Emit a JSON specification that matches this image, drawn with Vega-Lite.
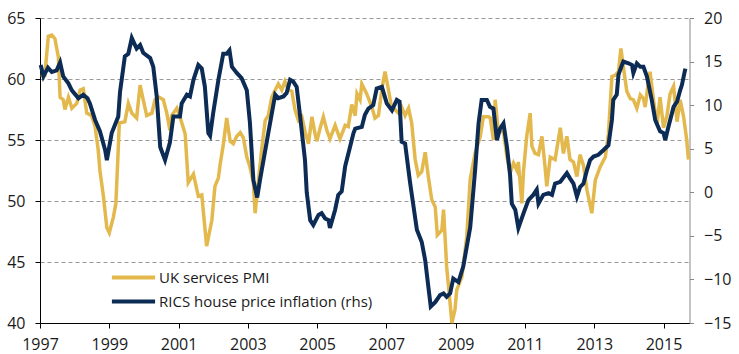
{
  "$schema": "https://vega.github.io/schema/vega-lite/v6.json",
  "width": 649.5,
  "height": 305,
  "autosize": {"type": "none"},
  "padding": {"left": 40, "top": 18, "right": 49.5, "bottom": 31},
  "background": "white",
  "config": {
    "font": "Open Sans",
    "view": {"stroke": null},
    "axis": {"labelFont": "Open Sans", "labelFontSize": 16, "labelColor": "#1a1a1a", "title": null}
  },
  "datasets": {
    "pmi": [
      {"t":1997.02,"v":60.3},{"t":1997.14,"v":60.3},{"t":1997.24,"v":63.5},{"t":1997.34,"v":63.6},{"t":1997.43,"v":63.3},{"t":1997.53,"v":61.8},{"t":1997.58,"v":58.5},{"t":1997.67,"v":58.3},{"t":1997.72,"v":57.5},{"t":1997.82,"v":58.5},{"t":1997.92,"v":57.6},
      {"t":1998.06,"v":58.0},{"t":1998.16,"v":59.1},{"t":1998.25,"v":59.2},{"t":1998.35,"v":57.2},{"t":1998.49,"v":57.0},{"t":1998.59,"v":56.1},{"t":1998.68,"v":54.2},{"t":1998.73,"v":52.5},{"t":1998.83,"v":50.4},{"t":1998.93,"v":47.8},
      {"t":1999.0,"v":47.4},{"t":1999.12,"v":48.7},{"t":1999.19,"v":49.8},{"t":1999.24,"v":53.0},{"t":1999.29,"v":56.4},{"t":1999.45,"v":56.5},{"t":1999.55,"v":58.0},{"t":1999.65,"v":57.2},{"t":1999.79,"v":56.8},{"t":1999.89,"v":59.5},{"t":1999.98,"v":58.3},
      {"t":2000.08,"v":57.0},{"t":2000.23,"v":57.2},{"t":2000.32,"v":58.3},{"t":2000.44,"v":58.5},{"t":2000.56,"v":58.3},{"t":2000.66,"v":57.2},{"t":2000.75,"v":55.8},{"t":2000.8,"v":57.0},{"t":2000.95,"v":57.6},
      {"t":2001.04,"v":56.9},{"t":2001.19,"v":55.5},{"t":2001.28,"v":51.5},{"t":2001.43,"v":52.2},{"t":2001.57,"v":50.4},{"t":2001.67,"v":50.5},{"t":2001.81,"v":46.3},{"t":2001.96,"v":48.4},
      {"t":2002.05,"v":51.2},{"t":2002.15,"v":51.9},{"t":2002.2,"v":53.0},{"t":2002.29,"v":54.6},{"t":2002.39,"v":56.8},{"t":2002.49,"v":54.9},{"t":2002.58,"v":54.7},{"t":2002.68,"v":55.3},{"t":2002.78,"v":55.6},{"t":2002.87,"v":55.2},{"t":2002.97,"v":53.6},
      {"t":2003.06,"v":52.8},{"t":2003.16,"v":51.5},{"t":2003.21,"v":49.0},{"t":2003.3,"v":51.5},{"t":2003.4,"v":54.2},{"t":2003.5,"v":56.6},{"t":2003.59,"v":57.0},{"t":2003.69,"v":58.5},{"t":2003.79,"v":59.1},{"t":2003.88,"v":59.6},{"t":2003.98,"v":59.1},
      {"t":2004.07,"v":59.8},{"t":2004.17,"v":59.1},{"t":2004.27,"v":59.0},{"t":2004.36,"v":57.5},{"t":2004.46,"v":56.6},{"t":2004.56,"v":56.9},{"t":2004.65,"v":55.7},{"t":2004.75,"v":54.7},{"t":2004.85,"v":56.9},{"t":2004.94,"v":55.5},{"t":2004.99,"v":54.9},
      {"t":2005.09,"v":56.0},{"t":2005.18,"v":56.9},{"t":2005.28,"v":55.8},{"t":2005.37,"v":55.1},{"t":2005.52,"v":56.2},{"t":2005.66,"v":55.1},{"t":2005.81,"v":56.2},{"t":2005.9,"v":56.1},
      {"t":2006.0,"v":57.9},{"t":2006.1,"v":57.0},{"t":2006.15,"v":58.8},{"t":2006.24,"v":58.3},{"t":2006.29,"v":59.6},{"t":2006.43,"v":58.8},{"t":2006.58,"v":57.7},{"t":2006.67,"v":56.8},{"t":2006.77,"v":57.0},{"t":2006.87,"v":59.2},{"t":2006.96,"v":60.6},
      {"t":2007.06,"v":59.1},{"t":2007.16,"v":57.5},{"t":2007.25,"v":57.5},{"t":2007.35,"v":57.2},{"t":2007.44,"v":57.7},{"t":2007.54,"v":57.0},{"t":2007.64,"v":57.6},{"t":2007.73,"v":56.4},{"t":2007.83,"v":53.4},{"t":2007.92,"v":52.1},
      {"t":2008.02,"v":52.4},{"t":2008.12,"v":54.0},{"t":2008.21,"v":52.0},{"t":2008.31,"v":50.1},{"t":2008.41,"v":49.5},{"t":2008.47,"v":47.2},{"t":2008.6,"v":47.6},{"t":2008.65,"v":49.3},{"t":2008.74,"v":44.6},{"t":2008.84,"v":41.6},{"t":2008.89,"v":40.0},{"t":2008.98,"v":41.1},
      {"t":2009.03,"v":42.7},{"t":2009.18,"v":43.8},{"t":2009.32,"v":47.1},{"t":2009.42,"v":51.8},{"t":2009.56,"v":53.9},{"t":2009.71,"v":55.3},{"t":2009.8,"v":56.9},{"t":2009.95,"v":56.9},
      {"t":2010.0,"v":56.8},{"t":2010.09,"v":55.0},{"t":2010.14,"v":58.3},{"t":2010.23,"v":55.7},{"t":2010.38,"v":55.7},{"t":2010.48,"v":53.6},{"t":2010.57,"v":52.3},{"t":2010.67,"v":53.1},{"t":2010.77,"v":52.5},{"t":2010.81,"v":53.2},{"t":2010.91,"v":49.8},{"t":2010.96,"v":52.5},
      {"t":2011.05,"v":55.3},{"t":2011.15,"v":57.2},{"t":2011.2,"v":54.5},{"t":2011.29,"v":53.9},{"t":2011.39,"v":53.8},{"t":2011.49,"v":55.3},{"t":2011.58,"v":52.8},{"t":2011.63,"v":51.2},{"t":2011.73,"v":53.6},{"t":2011.87,"v":53.4},
      {"t":2012.02,"v":56.0},{"t":2012.11,"v":53.9},{"t":2012.21,"v":55.3},{"t":2012.3,"v":53.4},{"t":2012.4,"v":53.2},{"t":2012.5,"v":52.0},{"t":2012.59,"v":53.8},{"t":2012.69,"v":52.9},{"t":2012.79,"v":50.9},{"t":2012.93,"v":49.0},
      {"t":2013.03,"v":51.7},{"t":2013.17,"v":52.8},{"t":2013.32,"v":53.6},{"t":2013.41,"v":55.5},{"t":2013.51,"v":60.2},{"t":2013.6,"v":60.3},{"t":2013.7,"v":60.6},{"t":2013.77,"v":62.5},{"t":2013.84,"v":61.0},{"t":2013.94,"v":59.0},
      {"t":2014.04,"v":58.4},{"t":2014.13,"v":58.3},{"t":2014.23,"v":57.6},{"t":2014.33,"v":58.7},{"t":2014.42,"v":58.4},{"t":2014.47,"v":57.7},{"t":2014.57,"v":59.9},{"t":2014.61,"v":60.6},{"t":2014.71,"v":58.3},{"t":2014.81,"v":56.2},{"t":2014.9,"v":58.5},
      {"t":2015.0,"v":56.0},{"t":2015.1,"v":57.0},{"t":2015.19,"v":58.8},{"t":2015.29,"v":59.4},{"t":2015.39,"v":56.5},{"t":2015.48,"v":58.3},{"t":2015.58,"v":56.9},{"t":2015.67,"v":55.0},{"t":2015.72,"v":53.4}
    ],
    "rics": [
      {"t":1997.02,"v":14.6},{"t":1997.1,"v":13.3},{"t":1997.23,"v":14.3},{"t":1997.34,"v":13.8},{"t":1997.48,"v":14.0},{"t":1997.58,"v":14.9},{"t":1997.67,"v":13.3},{"t":1997.82,"v":12.5},{"t":1997.92,"v":11.7},
      {"t":1998.11,"v":10.8},{"t":1998.25,"v":11.2},{"t":1998.37,"v":10.8},{"t":1998.44,"v":10.2},{"t":1998.59,"v":8.3},{"t":1998.73,"v":7.0},{"t":1998.88,"v":4.85},{"t":1998.93,"v":3.7},
      {"t":1999.07,"v":6.8},{"t":1999.26,"v":8.7},{"t":1999.31,"v":11.5},{"t":1999.45,"v":15.6},{"t":1999.55,"v":15.9},{"t":1999.65,"v":17.7},{"t":1999.79,"v":16.5},{"t":1999.89,"v":16.9},{"t":1999.98,"v":16.0},
      {"t":2000.18,"v":15.4},{"t":2000.27,"v":14.4},{"t":2000.37,"v":11.0},{"t":2000.47,"v":5.2},{"t":2000.61,"v":3.7},{"t":2000.75,"v":5.7},{"t":2000.85,"v":8.7},
      {"t":2001.04,"v":8.7},{"t":2001.09,"v":10.2},{"t":2001.24,"v":11.2},{"t":2001.33,"v":11.0},{"t":2001.43,"v":12.9},{"t":2001.57,"v":14.6},{"t":2001.67,"v":14.2},{"t":2001.76,"v":12.1},{"t":2001.86,"v":6.8},{"t":2001.91,"v":6.5},
      {"t":2002.0,"v":9.1},{"t":2002.15,"v":12.9},{"t":2002.29,"v":15.9},{"t":2002.39,"v":15.9},{"t":2002.47,"v":16.3},{"t":2002.54,"v":14.4},{"t":2002.68,"v":13.7},{"t":2002.82,"v":13.1},{"t":2002.97,"v":11.7},
      {"t":2003.06,"v":8.0},{"t":2003.16,"v":1.4},{"t":2003.27,"v":-0.6},{"t":2003.35,"v":1.4},{"t":2003.59,"v":6.8},{"t":2003.79,"v":11.2},{"t":2003.88,"v":10.8},
      {"t":2004.03,"v":11.0},{"t":2004.12,"v":11.4},{"t":2004.22,"v":12.9},{"t":2004.31,"v":12.7},{"t":2004.41,"v":12.1},{"t":2004.51,"v":8.7},{"t":2004.65,"v":3.7},{"t":2004.7,"v":0.0},{"t":2004.8,"v":-3.2},{"t":2004.89,"v":-3.75},
      {"t":2005.04,"v":-2.6},{"t":2005.13,"v":-2.4},{"t":2005.23,"v":-3.0},{"t":2005.33,"v":-3.2},{"t":2005.37,"v":-4.1},{"t":2005.52,"v":-2.0},{"t":2005.61,"v":-0.3},{"t":2005.71,"v":0.1},{"t":2005.81,"v":3.0},{"t":2005.95,"v":5.2},
      {"t":2006.05,"v":6.8},{"t":2006.1,"v":7.3},{"t":2006.29,"v":7.5},{"t":2006.38,"v":8.9},{"t":2006.48,"v":9.6},{"t":2006.62,"v":10.0},{"t":2006.72,"v":11.9},{"t":2006.87,"v":12.1},
      {"t":2007.01,"v":10.2},{"t":2007.16,"v":9.4},{"t":2007.3,"v":10.6},{"t":2007.38,"v":10.4},{"t":2007.44,"v":5.8},{"t":2007.54,"v":5.6},{"t":2007.68,"v":1.2},{"t":2007.88,"v":-4.3},
      {"t":2008.02,"v":-5.7},{"t":2008.12,"v":-7.8},{"t":2008.21,"v":-10.8},{"t":2008.28,"v":-13.1},{"t":2008.41,"v":-12.6},{"t":2008.55,"v":-11.8},{"t":2008.65,"v":-11.6},{"t":2008.74,"v":-12.0},{"t":2008.84,"v":-11.6},{"t":2008.93,"v":-9.9},
      {"t":2009.08,"v":-10.3},{"t":2009.22,"v":-8.5},{"t":2009.42,"v":-4.0},{"t":2009.56,"v":2.5},{"t":2009.66,"v":7.9},{"t":2009.75,"v":10.6},{"t":2009.9,"v":10.6},{"t":2009.99,"v":9.8},
      {"t":2010.09,"v":9.6},{"t":2010.19,"v":6.0},{"t":2010.28,"v":7.3},{"t":2010.38,"v":7.9},{"t":2010.48,"v":5.2},{"t":2010.57,"v":2.0},{"t":2010.62,"v":-1.3},{"t":2010.72,"v":-2.0},{"t":2010.81,"v":-4.1},{"t":2010.96,"v":-2.4},
      {"t":2011.1,"v":-0.9},{"t":2011.24,"v":-0.3},{"t":2011.34,"v":0.3},{"t":2011.39,"v":-1.3},{"t":2011.53,"v":-0.3},{"t":2011.68,"v":-0.1},{"t":2011.78,"v":-0.3},{"t":2011.87,"v":1.0},
      {"t":2012.02,"v":1.2},{"t":2012.21,"v":2.2},{"t":2012.3,"v":1.6},{"t":2012.4,"v":1.0},{"t":2012.5,"v":-0.5},{"t":2012.59,"v":0.6},{"t":2012.69,"v":1.0},{"t":2012.79,"v":2.55},{"t":2012.88,"v":3.7},{"t":2012.98,"v":4.1},
      {"t":2013.12,"v":4.3},{"t":2013.27,"v":4.85},{"t":2013.41,"v":5.4},{"t":2013.51,"v":8.3},{"t":2013.55,"v":10.6},{"t":2013.65,"v":11.2},{"t":2013.7,"v":13.5},{"t":2013.8,"v":14.6},{"t":2013.84,"v":15.0},{"t":2013.99,"v":14.8},
      {"t":2014.09,"v":14.6},{"t":2014.13,"v":13.7},{"t":2014.23,"v":14.8},{"t":2014.33,"v":14.4},{"t":2014.42,"v":14.4},{"t":2014.52,"v":13.3},{"t":2014.66,"v":10.6},{"t":2014.76,"v":8.3},{"t":2014.9,"v":7.0},
      {"t":2015.0,"v":6.8},{"t":2015.05,"v":6.0},{"t":2015.14,"v":7.5},{"t":2015.29,"v":9.8},{"t":2015.39,"v":10.4},{"t":2015.48,"v":11.7},{"t":2015.53,"v":12.3},{"t":2015.63,"v":14.2}
    ]
  },
  "encoding": {
    "x": {
      "field": "t", "type": "quantitative",
      "scale": {"domain": [1997, 2015.75], "nice": false, "zero": false},
      "axis": {"values": [1997,1999,2001,2003,2005,2007,2009,2011,2013,2015], "format": "d", "domainColor": "#000000", "tickColor": "#000000", "tickSize": 5, "labelPadding": 8, "grid": false, "labelFlush": false}
    }
  },
  "layer": [
    {
      "data": {"name": "pmi"},
      "mark": {"type": "line", "strokeWidth": 3.5, "interpolate": "linear"},
      "encoding": {
        "y": {
          "field": "v", "type": "quantitative",
          "scale": {"domain": [40, 65], "nice": false, "zero": false},
          "axis": {"values": [40,45,50,55,60,65], "domainColor": "#000000", "tickColor": "#000000", "tickSize": 5, "labelPadding": 10, "grid": true, "gridColor": "#999999", "gridDash": [4,3], "gridWidth": 1}
        },
        "color": {
          "datum": "UK services PMI",
          "scale": {"domain": ["UK services PMI", "RICS house price inflation (rhs)"], "range": ["#E3B94E", "#0C2B55"]},
          "legend": {"orient": "none", "legendX": 78, "legendY": 244, "title": null, "padding": 0, "symbolType": "M-1.6,0H1.6", "symbolSize": 729, "symbolStrokeWidth": 4, "labelFont": "Open Sans", "labelFontSize": 15, "labelColor": "#1a1a1a", "labelOffset": 10, "labelLimit": 400, "rowPadding": -1}
        }
      }
    },
    {
      "data": {"name": "rics"},
      "mark": {"type": "line", "strokeWidth": 4, "interpolate": "linear"},
      "encoding": {
        "y": {
          "field": "v", "type": "quantitative",
          "scale": {"domain": [-15, 20], "nice": false, "zero": false},
          "axis": {"orient": "right", "values": [-15,-10,-5,0,5,10,15,20], "domainColor": "#888888", "tickColor": "#888888", "tickSize": 4, "labelPadding": 10, "grid": false}
        },
        "color": {"datum": "RICS house price inflation (rhs)"}
      }
    }
  ],
  "resolve": {"scale": {"y": "independent"}}
}
